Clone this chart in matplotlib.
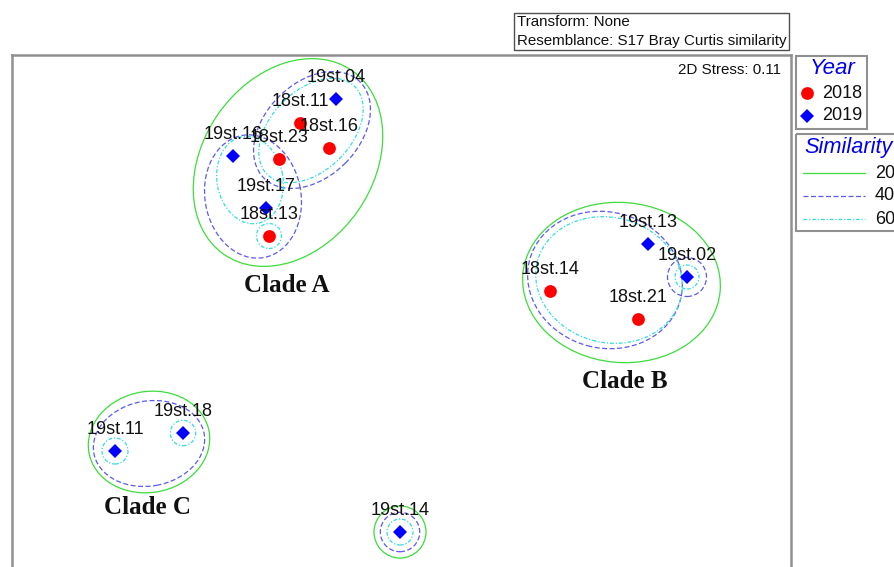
import matplotlib
matplotlib.use("Agg")
import matplotlib.pyplot as plt
from matplotlib.patches import Ellipse, Rectangle
from matplotlib.lines import Line2D

plt.rcParams["font.family"] = ["Liberation Sans", "DejaVu Sans"]

# nMDS ordination coordinates of each station
samples = ["19st.04", "18st.11", "18st.16", "19st.16", "18st.23", "19st.17", "18st.13",
           "19st.13", "19st.02", "18st.14", "18st.21", "19st.11", "19st.18", "19st.14"]
mds1 = [-0.64, -1.00, -0.71, -1.67, -1.21, -1.34, -1.31,
        2.48, 2.87, 1.50, 2.38, -2.85, -2.17, 0.00]
mds2 = [2.01, 1.77, 1.52, 1.44, 1.41, 0.92, 0.64,
        0.56, 0.23, 0.09, -0.19, -1.51, -1.33, -2.32]
year = [2019, 2018, 2018, 2019, 2018, 2019, 2018,
        2019, 2019, 2018, 2018, 2019, 2019, 2019]

stress = 0.11
similarity_levels = [20, 40, 60]

# cluster contours: (level, centre x, centre y, width, height, angle)
contours = [
    (20, -1.12, 1.375, 2.24, 1.70, 55),
    (40, -0.88, 1.70, 1.36, 0.94, 45),
    (60, -0.89, 1.695, 1.24, 0.80, 45),
    (40, -1.47, 1.035, 1.24, 0.96, 100),
    (60, -1.50, 1.20, 0.88, 0.66, 100),
    (60, -1.31, 0.64, 0.25, 0.25, 0),
    (20, 2.215, 0.175, 1.98, 1.60, -5),
    (40, 2.05, 0.20, 1.56, 1.36, -15),
    (60, 2.09, 0.20, 1.48, 1.25, -15),
    (40, 2.87, 0.23, 0.39, 0.39, 0),
    (60, 2.87, 0.23, 0.24, 0.24, 0),
    (20, -2.51, -1.42, 1.22, 1.01, 10),
    (40, -2.51, -1.435, 1.12, 0.85, 10),
    (60, -2.85, -1.51, 0.26, 0.26, 0),
    (60, -2.17, -1.33, 0.254, 0.254, 0),
    (20, 0.00, -2.32, 0.52, 0.52, 0),
    (40, 0.00, -2.32, 0.394, 0.394, 0),
    (60, 0.00, -2.32, 0.26, 0.26, 0),
]

clade_names = ["Clade A", "Clade B", "Clade C"]
clade_x = [-1.13, 2.25, -2.52]
clade_y = [0.15, -0.81, -2.08]

year_style = {2018: dict(marker="o", color="#ff0000", ms=9.2),
              2019: dict(marker="D", color="#0000ff", ms=7.0)}
level_style = {20: dict(color="#3ddc3d", ls="-", lw=0.9),
               40: dict(color="#5a5af0", ls=(0, (4, 2)), lw=0.9),
               60: dict(color="#30dde0", ls=(0, (3, 1.5, 1, 1.5)), lw=0.9)}

W, H = 894, 567
fig = plt.figure(figsize=(W / 100, H / 100), dpi=100)

# ordination panel (bottom edge runs off the page)
ax = fig.add_axes([12 / W, -13 / H, 779 / W, 525 / H])
ax.set_xlim(-3.88, 3.91)
ax.set_ylim(-2.80, 2.45)
ax.set_xticks([])
ax.set_yticks([])
for s in ax.spines.values():
    s.set_color("#909090")
    s.set_linewidth(1.8)

for lev, cx, cy, w, h, ang in contours:
    st = level_style[lev]
    ax.add_patch(Ellipse((cx, cy), w, h, angle=ang, fill=False,
                         edgecolor=st["color"], linestyle=st["ls"], linewidth=st["lw"]))

for name, x, y, yr in zip(samples, mds1, mds2, year):
    st = year_style[yr]
    ax.plot(x, y, linestyle="none", marker=st["marker"], color=st["color"],
            markersize=st["ms"], markeredgewidth=0, zorder=5)
    ax.annotate(name, (x, y), xytext=(0, 15.8), textcoords="offset points",
                ha="center", va="center", fontsize=13, color="#111111", zorder=6)

for name, x, y in zip(clade_names, clade_x, clade_y):
    ax.text(x, y, name, ha="center", va="center", fontsize=18,
            fontweight="bold", family="Liberation Serif", color="#111111")

ax.text(0.987, 0.972, f"2D Stress: {stress}", transform=ax.transAxes,
        ha="right", va="center", fontsize=10.9, color="#111111")

# page decorations drawn in pixel coordinates
deco = fig.add_axes([0, 0, 1, 1])
deco.set_xlim(0, W)
deco.set_ylim(H, 0)
deco.axis("off")

deco.add_patch(Rectangle((514, 13), 275, 37, fill=False, edgecolor="#505050", lw=1.0))
deco.text(517, 21.5, "Transform: None", ha="left", va="center", fontsize=10.9,
          color="#111111")
deco.text(517, 41, "Resemblance: S17 Bray Curtis similarity", ha="left", va="center",
          fontsize=10.9, color="#111111")

# Year legend
deco.add_patch(Rectangle((796, 56), 71, 73, fill=False, edgecolor="#909090", lw=1.5))
deco.text(833, 69, "Year", ha="center", va="center", fontsize=16, style="italic",
          color="#0000ee")
for yr, yy in zip([2018, 2019], [93, 116]):
    st = year_style[yr]
    deco.add_line(Line2D([807], [yy], marker=st["marker"], color=st["color"],
                         markersize=st["ms"], markeredgewidth=0, linestyle="none"))
    deco.text(822, yy, str(yr), ha="left", va="center", fontsize=13, color="#111111")

# Similarity legend
deco.add_patch(Rectangle((796, 134), 110, 97, fill=False, edgecolor="#909090", lw=1.5))
deco.text(804, 147, "Similarity", ha="left", va="center", fontsize=15.7, style="italic",
          color="#0000ee")
for lev, yy in zip(similarity_levels, [173, 196, 219]):
    st = level_style[lev]
    deco.add_line(Line2D([803, 865], [yy, yy], color=st["color"], linestyle=st["ls"],
                         linewidth=st["lw"]))
    deco.text(875, yy, str(lev), ha="left", va="center", fontsize=13, color="#111111")

fig.savefig("out.png", dpi=100)
